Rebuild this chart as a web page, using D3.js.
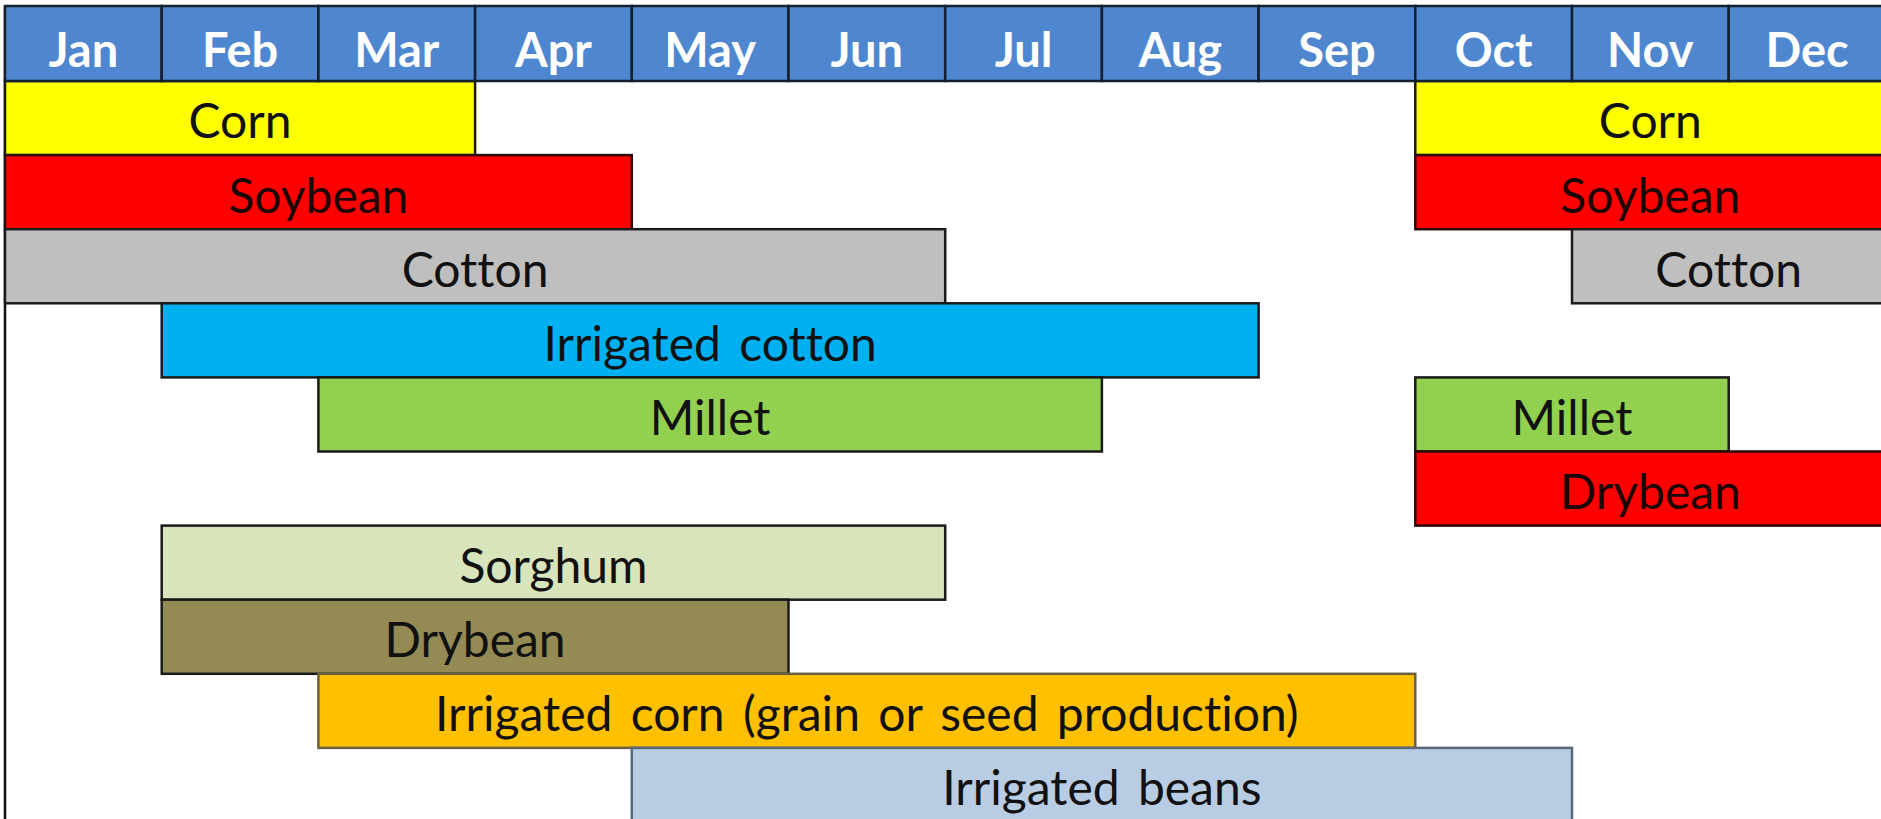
<!DOCTYPE html>
<html>
<head>
<meta charset="utf-8">
<script src="https://cdn.jsdelivr.net/npm/d3@7"></script>
<style>
  html, body { margin: 0; padding: 0; background: #fff; overflow: hidden; }
  text { font-family: Lato, "Open Sans", sans-serif; font-variant-ligatures: none; }
</style>
</head>
<body>
<div id="chart"></div>
<script>
// months across the top
const months = ["Jan", "Feb", "Mar", "Apr", "May", "Jun", "Jul", "Aug", "Sep", "Oct", "Nov", "Dec"];

// one entry per bar: crop, row, start month index, end month index (exclusive)
const cropNames = ["Corn", "Corn", "Soybean", "Soybean", "Cotton", "Cotton", "Irrigated cotton",
    "Millet", "Millet", "Drybean", "Sorghum", "Drybean",
    "Irrigated corn (grain or seed production)", "Irrigated beans"];
const cropRows = [0, 0, 1, 1, 2, 2, 3, 4, 4, 5, 6, 7, 8, 9];
const startMonth = [0, 9, 0, 9, 0, 10, 1, 2, 9, 9, 1, 1, 2, 4];
const endMonth = [3, 12, 4, 12, 6, 12, 8, 7, 11, 12, 6, 5, 9, 10];

// fill and outline of each bar
const barFill = ["#ffff00", "#ffff00", "#ff0000", "#ff0000", "#bfbfbf", "#bfbfbf", "#00b0f0",
    "#92d050", "#92d050", "#ff0000", "#d8e4bc", "#948a54", "#ffc000", "#b8cce4"];
const barStroke = ["#1a1a1a", "#1a1a1a", "#2a0a0a", "#2a0a0a", "#1a1a1a", "#1a1a1a", "#1a1a1a",
    "#1a1a1a", "#1a1a1a", "#2a0a0a", "#1a1a1a", "#1a1a1a", "#6b6040", "#5a6778"];

function setupChart() {
    const width = 1881
    const height = 819
    const left = 5
    const colW = 156.7
    const headTop = 6
    const headBottom = 81
    const rowH = 74.1
    const nRows = 10

    let svg = d3.select("#chart")
        .append("svg")
        .attr("width", width)
        .attr("height", height)

    let x = d3.scaleLinear()
        .domain([0, 12])
        .range([left, left + 12 * colW])

    let xMonth = d3.scaleBand()
        .domain(months)
        .range([left, left + 12 * colW])

    let y = d3.scaleBand()
        .domain(d3.range(nRows))
        .range([headBottom, headBottom + nRows * rowH])

    let bars = cropNames.map(function (name, i) {
        return {name: name, row: cropRows[i], start: startMonth[i], end: endMonth[i], fill: barFill[i], stroke: barStroke[i]}
    })

    // left border of the table
    svg.append("line")
        .attr("x1", left).attr("x2", left)
        .attr("y1", headTop).attr("y2", height)
        .attr("stroke", "#111")
        .attr("stroke-width", 2.5)

    // bars
    svg.selectAll("rect.bar")
        .data(bars)
        .enter()
        .append("rect")
        .attr("class", "bar")
        .attr("x", d => x(d.start))
        .attr("y", d => y(d.row))
        .attr("width", d => x(d.end) - x(d.start))
        .attr("height", y.bandwidth())
        .attr("fill", d => d.fill)
        .attr("stroke", d => d.stroke)
        .attr("stroke-width", 2.5)

    svg.selectAll("text.bar")
        .data(bars)
        .enter()
        .append("text")
        .attr("class", "bar")
        .attr("x", d => x((d.start + d.end) / 2))
        .attr("y", d => y(d.row) + rowH * 0.775)
        .attr("text-anchor", "middle")
        .style("font-size", "48px")
        .style("word-spacing", "6px")
        .attr("fill", d => d.fill === "#ff0000" ? "#1c0505" : "#111")
        .text(d => d.name)

    // month header
    svg.selectAll("rect.month")
        .data(months)
        .enter()
        .append("rect")
        .attr("class", "month")
        .attr("x", d => xMonth(d))
        .attr("y", headTop)
        .attr("width", xMonth.bandwidth())
        .attr("height", headBottom - headTop)
        .attr("fill", "#4e87cf")
        .attr("stroke", "#15202e")
        .attr("stroke-width", 2.5)

    svg.selectAll("text.month")
        .data(months)
        .enter()
        .append("text")
        .attr("class", "month")
        .attr("x", d => xMonth(d) + xMonth.bandwidth() / 2)
        .attr("y", 67)
        .attr("text-anchor", "middle")
        .style("font-size", "47px")
        .style("font-weight", "bold")
        .attr("fill", "#fff")
        .text(d => d)
}

setupChart();
</script>
</body>
</html>
